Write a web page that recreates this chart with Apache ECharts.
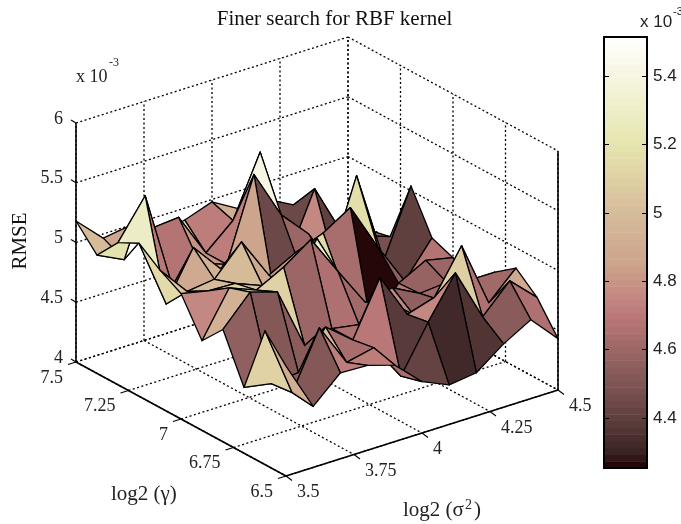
<!DOCTYPE html>
<html><head><meta charset="utf-8">
<style>html,body{margin:0;padding:0;background:#fff}#c{width:681px;height:524px}</style>
<script src="https://cdn.jsdelivr.net/npm/echarts@6/dist/echarts.min.js"></script>
</head><body><div id="c"></div>
<script>
// data (RMSE in units of 1e-3)
const sigmaGrid=[3.5,3.6,3.7,3.8,3.9,4,4.1,4.2,4.3,4.4,4.5];
const gammaGrid=[7.5,7.4,7.3,7.2,7.1,7,6.9,6.8,6.7,6.6,6.5];
const rmse0=[5.18,4.965,5.0,4.85,4.90,4.98,4.85,4.86,4.74,4.4,4.4];
const rmse1=[4.99,4.88,5.07,5.09,4.72,4.92,5.42,4.45,4.97,4.53,4.48];
const rmse2=[5.19,5.51,4.68,4.80,4.72,5.40,4.99,4.76,4.40,4.60,4.52];
const rmse3=[5.28,4.70,5.10,4.85,4.85,4.45,4.60,4.60,5.27,4.49,5.04];
const rmse4=[5.15,4.90,4.93,5.17,4.82,4.94,5.03,5.17,4.77,4.41,4.70];
const rmse5=[5.05,5.00,4.99,4.90,4.80,5.15,4.64,4.26,4.56,4.68,4.63];
const rmse6=[4.75,5.12,5.03,5.15,5.31,4.97,4.64,4.69,4.57,4.59,4.55];
const rmse7=[4.94,5.18,5.11,4.59,4.66,4.62,4.75,4.56,4.61,4.70,4.70];
const rmse8=[4.55,4.51,4.53,4.84,4.66,5.11,4.73,4.80,5.16,4.61,4.83];
const rmse9=[5.12,4.53,5.00,4.64,4.69,4.38,4.76,5.10,4.66,4.89,4.68];
const rmse10=[4.92,4.51,4.72,4.71,4.64,4.43,4.33,4.36,4.53,4.66,4.43];
const rmseRows=[rmse0,rmse1,rmse2,rmse3,rmse4,rmse5,rmse6,rmse7,rmse8,rmse9,rmse10];
const sigmaTicks=[3.5,3.75,4,4.25,4.5];
const gammaTicks=[7.5,7.25,7,6.75,6.5];
const rmseTicks=[4,4.5,5,5.5,6];
const colorbarTicks=[4.4,4.6,4.8,5,5.2,5.4];
const climMin=4.254, climMax=5.514, bandCount=64;
const stopValues=[4.254,4.30,4.40,4.50,4.60,4.70,4.75,4.85,5.0,5.10,5.2,5.3,5.4,5.514];
const stopColors=['#200000','#3a2222','#5f3f3f','#7f5454','#9c6666','#bb7878','#c28680','#cda38c','#d6bc9a','#dfd0a4','#e5e5ae','#eeeec8','#f6f5e0','#ffffff'];

const project=(s,g,r)=>[76+272*(s-3.5)+210*(7.5-g),362-86*(s-3.5)+114*(7.5-g)-119.5*(r-4)];
const hex=c=>[1,3,5].map(k=>parseInt(c.substr(k,2),16));
function bandColor(v){
  const b=Math.min(bandCount-1,Math.max(0,Math.floor((v-climMin)/(climMax-climMin)*bandCount)));
  const q=climMin+(b+.5)*(climMax-climMin)/bandCount;
  let k=0;while(k<stopValues.length-2&&q>stopValues[k+1])k++;
  const t=(q-stopValues[k])/(stopValues[k+1]-stopValues[k]),A=hex(stopColors[k]),B=hex(stopColors[k+1]);
  return 'rgb('+A.map((a,n)=>Math.round(a+(B[n]-a)*t)).join(',')+')';
}
const faces=[];
for(let i=9;i>=0;i--)for(let j=0;j<10;j++)faces.push([i,j]);
const sMin=3.5,sMax=4.5,gMin=6.5,gMax=7.5,rMin=4,rMax=6;
const segs=[];
const dash={stroke:'#000',lineWidth:1.3,lineDash:[2,2.5]};
const solid={stroke:'#000',lineWidth:1.6};
const thin={stroke:'#000',lineWidth:1.1};
rmseTicks.forEach(r=>{segs.push([[sMin,gMax,r],[sMax,gMax,r],dash]);segs.push([[sMax,gMax,r],[sMax,gMin,r],dash]);});
sigmaTicks.forEach(s=>{segs.push([[s,gMax,rMin],[s,gMax,rMax],dash]);segs.push([[s,gMax,rMin],[s,gMin,rMin],dash]);});
gammaTicks.forEach(g=>{segs.push([[sMax,g,rMin],[sMax,g,rMax],dash]);segs.push([[sMin,g,rMin],[sMax,g,rMin],dash]);});
segs.push([[sMin,gMax,rMin],[sMin,gMin,rMin],solid]);
segs.push([[sMin,gMin,rMin],[sMax,gMin,rMin],solid]);
segs.push([[sMin,gMax,rMin],[sMin,gMax,rMax],solid]);
segs.push([[sMax,gMin,rMin],[sMax,gMin,rMax],solid]);
const tickMarks=[];
rmseTicks.forEach(r=>tickMarks.push([[sMin,gMax,r],[-5,-3]]));
gammaTicks.forEach(g=>tickMarks.push([[sMin,g,rMin],[-8,2.5]]));
sigmaTicks.forEach(s=>tickMarks.push([[s,gMin,rMin],[6,4.5]]));
const serif='"Liberation Serif","Times New Roman",serif', sans='"Liberation Sans",Arial,sans-serif';
const tickLabels=[];
rmseTicks.forEach(r=>tickLabels.push([[sMin,gMax,r],String(r),-13,-4,'right']));
gammaTicks.forEach(g=>tickLabels.push([[sMin,g,rMin],String(g),-13,16,'right']));
sigmaTicks.forEach(s=>tickLabels.push([[s,gMin,rMin],String(s),11,16.5,'left']));

const chart=echarts.init(document.getElementById('c'),null,{renderer:'canvas'});
const hidden={show:false};
const base=(n,z)=>({type:'custom',coordinateSystem:'cartesian2d',xAxisIndex:0,yAxisIndex:0,silent:true,clip:false,z:z,
   data:Array.from({length:n},(_,k)=>[k,0])});
const option={
  animation:false,backgroundColor:'#fff',
  title:{text:'Finer search for RBF kernel',left:329.5,top:4,textAlign:'center',
    textStyle:{fontFamily:serif,fontSize:21,fontWeight:'normal',color:'#111'}},
  grid:[{left:0,top:0,width:681,height:524},{left:604,top:37,width:43,height:431}],
  xAxis:[
    {gridIndex:0,type:'value',min:0,max:681,show:false},
    {gridIndex:1,type:'value',min:0,max:1,position:'bottom',z:5,splitLine:hidden,axisTick:hidden,axisLabel:hidden,axisLine:{onZero:false,lineStyle:{color:'#000',width:2}}},
    {gridIndex:1,type:'value',min:0,max:1,position:'top',z:5,splitLine:hidden,axisTick:hidden,axisLabel:hidden,axisLine:{onZero:false,lineStyle:{color:'#000',width:2}}}
  ],
  yAxis:[
    {gridIndex:0,type:'value',min:0,max:524,inverse:true,show:false},
    {gridIndex:1,type:'value',min:climMin,max:climMax,position:'left',z:5,splitLine:hidden,axisLabel:hidden,
      axisLine:{show:true,onZero:false,lineStyle:{color:'#000',width:2}},
      axisTick:{show:true,inside:true,length:5,customValues:colorbarTicks,lineStyle:{color:'#000',width:1}}},
    {gridIndex:1,type:'value',min:climMin,max:climMax,position:'right',z:5,splitLine:hidden,
      axisLine:{show:true,onZero:false,lineStyle:{color:'#000',width:2}},
      axisTick:{show:true,inside:true,length:5,customValues:colorbarTicks,lineStyle:{color:'#000',width:1}},
      axisLabel:{show:true,customValues:colorbarTicks,margin:6,color:'#222',fontFamily:sans,fontSize:17,formatter:v=>String(v)}}
  ],
  series:[
    Object.assign(base(segs.length,1),{
     renderItem:(p,api)=>{const s=segs[p.dataIndex],a=api.coord(project(...s[0])),b=api.coord(project(...s[1]));
       return {type:'line',shape:{x1:a[0],y1:a[1],x2:b[0],y2:b[1]},style:Object.assign({fill:null},s[2])};}}),
    Object.assign(base(tickMarks.length,1),{
     renderItem:(p,api)=>{const s=tickMarks[p.dataIndex],a=api.coord(project(...s[0]));
       return {type:'line',shape:{x1:a[0],y1:a[1],x2:a[0]+s[1][0],y2:a[1]+s[1][1]},style:Object.assign({fill:null},thin)};}}),
    Object.assign(base(tickLabels.length,1),{
     renderItem:(p,api)=>{const s=tickLabels[p.dataIndex],a=api.coord(project(...s[0]));
       return {type:'text',style:{x:a[0]+s[2],y:a[1]+s[3],text:s[1],textAlign:s[4],textVerticalAlign:'middle',font:'18px '+serif,fill:'#222'}};}}),
    Object.assign(base(faces.length,2),{
     renderItem:(p,api)=>{
       const f=faces[p.dataIndex],i=f[0],j=f[1];
       const P=(a,b)=>api.coord(project(sigmaGrid[a],gammaGrid[b],rmseRows[b][a]));
       return {type:'polygon',shape:{points:[P(i,j),P(i,j+1),P(i+1,j+1),P(i+1,j)]},
         style:{fill:bandColor(rmseRows[j+1][i]),stroke:'#000',lineWidth:1.3,lineJoin:'round'}};
     }}),
    Object.assign(base(bandCount,2),{xAxisIndex:1,yAxisIndex:1,
     renderItem:(p,api)=>{const d=(climMax-climMin)/bandCount,lo=climMin+p.dataIndex*d,
        a=api.coord([0,lo+d]),b=api.coord([1,lo]);
       return {type:'rect',shape:{x:a[0],y:a[1],width:b[0]-a[0],height:b[1]-a[1]+0.5},style:{fill:bandColor(lo+d/2)}};}})
  ],
  graphic:[
    {type:'text',x:76,y:77,style:{text:'x 10',font:'18px '+serif,fill:'#222',textVerticalAlign:'middle'}},
    {type:'text',x:109,y:63,style:{text:'-3',font:'12px '+serif,fill:'#222',textVerticalAlign:'middle'}},
    {type:'text',x:20,y:241,rotation:Math.PI/2,style:{text:'RMSE',font:'21px '+serif,fill:'#111',textAlign:'center',textVerticalAlign:'middle'}},
    {type:'text',x:111,y:494,style:{text:'log2 (γ)',font:'21px '+serif,fill:'#222',textVerticalAlign:'middle'}},
    {type:'text',x:403,y:510,style:{text:'log2 (σ',font:'21px '+serif,fill:'#222',textVerticalAlign:'middle'}},
    {type:'text',x:465,y:505,style:{text:'2',font:'14px '+serif,fill:'#222',textVerticalAlign:'middle'}},
    {type:'text',x:474,y:510,style:{text:')',font:'21px '+serif,fill:'#222',textVerticalAlign:'middle'}},
    {type:'text',x:640,y:22,style:{text:'x 10',font:'17px '+sans,fill:'#222',textVerticalAlign:'middle'}},
    {type:'text',x:673,y:12,style:{text:'-3',font:'11px '+sans,fill:'#222',textVerticalAlign:'middle'}}
  ]
};
chart.setOption(option);
</script></body></html>
